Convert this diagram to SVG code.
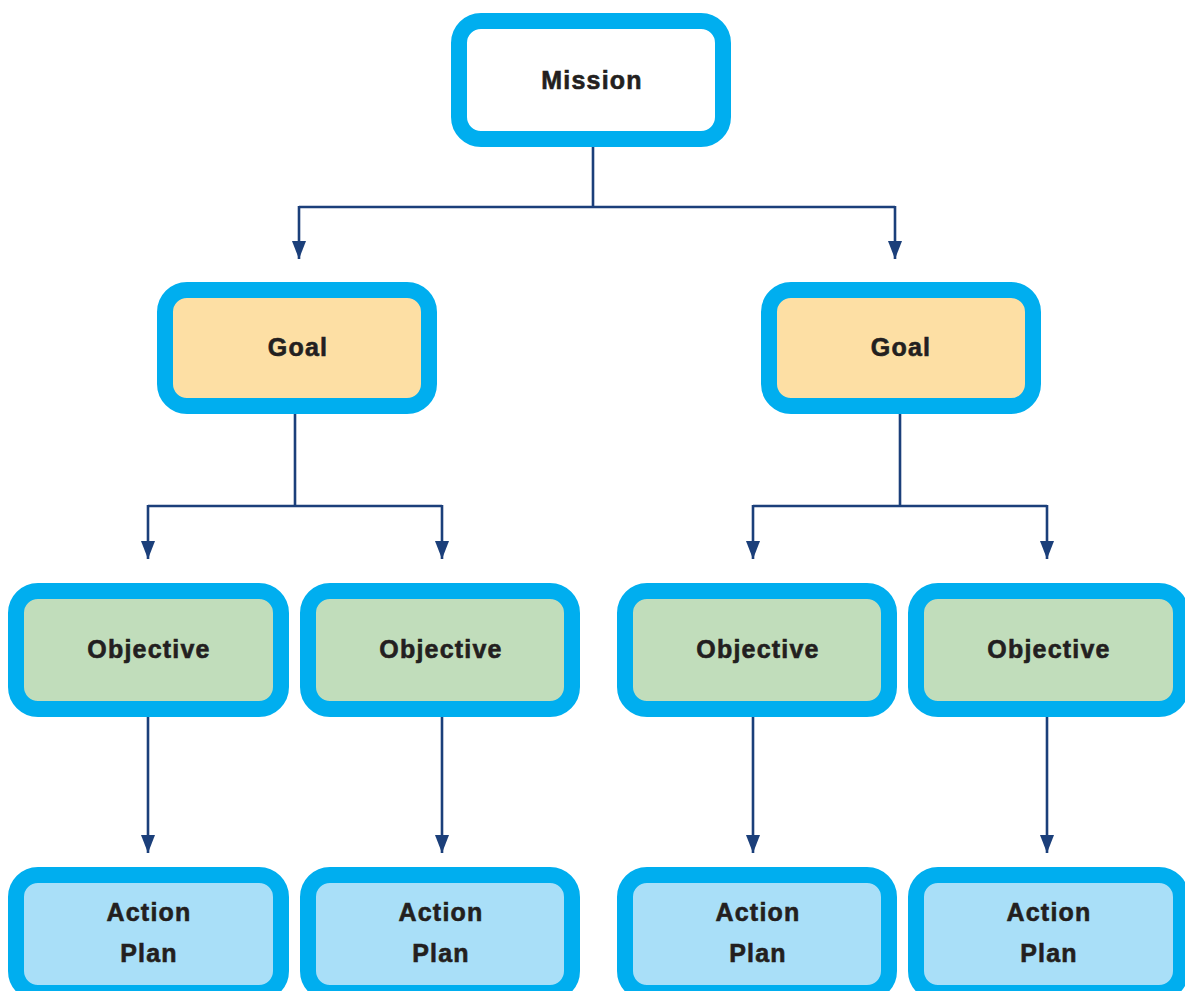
<svg xmlns="http://www.w3.org/2000/svg" width="1185" height="991" viewBox="0 0 1185 991">
<style>
.box{stroke:#00AEEF;stroke-width:16}
.mission{fill:#FFFFFF}
.goal{fill:#FDDFA4}
.obj{fill:#C1DDBB}
.act{fill:#A9DFF8}
.lbl{font-family:"Liberation Sans",Arial,sans-serif;font-weight:bold;font-size:25px;letter-spacing:1.2px;fill:#231F20;stroke:#231F20;stroke-width:0.6px;text-anchor:middle}
.conn{fill:none;stroke:#1B3F7A;stroke-width:2.6}
</style>
<defs>
<marker id="ah" markerUnits="userSpaceOnUse" markerWidth="18" markerHeight="14" refX="18" refY="7" orient="auto" viewBox="0 0 18 14">
<path d="M0,0 L18,7 L0,14 Z" fill="#1B3F7A"/>
</marker>
</defs>
<rect width="1185" height="991" fill="#FFFFFF"/>
<g id="connectors">
<path class="conn" d="M593,147 V207 M299,207 H895" />
<path class="conn" d="M299,206 V259" marker-end="url(#ah)"/>
<path class="conn" d="M895,206 V259" marker-end="url(#ah)"/>
<path class="conn" d="M295,414 V506 M148,506 H442" />
<path class="conn" d="M148,505 V559" marker-end="url(#ah)"/>
<path class="conn" d="M442,505 V559" marker-end="url(#ah)"/>
<path class="conn" d="M900,414 V506 M753,506 H1047" />
<path class="conn" d="M753,505 V559" marker-end="url(#ah)"/>
<path class="conn" d="M1047,505 V559" marker-end="url(#ah)"/>
<path class="conn" d="M148,717 V853" marker-end="url(#ah)"/>
<path class="conn" d="M442,717 V853" marker-end="url(#ah)"/>
<path class="conn" d="M753,717 V853" marker-end="url(#ah)"/>
<path class="conn" d="M1047,717 V853" marker-end="url(#ah)"/>
</g>
<g id="mission">
<rect class="box mission" x="459" y="21" width="264" height="118" rx="22"/>
<text class="lbl" x="592" y="89">Mission</text>
</g>
<g id="goal-left">
<rect class="box goal" x="165" y="290" width="264" height="116" rx="22"/>
<text class="lbl" x="298" y="356">Goal</text>
</g>
<g id="goal-right">
<rect class="box goal" x="769" y="290" width="264" height="116" rx="22"/>
<text class="lbl" x="901" y="356">Goal</text>
</g>
<g id="objective-1">
<rect class="box obj" x="16" y="591" width="265" height="118" rx="22"/>
<text class="lbl" x="149" y="658">Objective</text>
</g>
<g id="objective-2">
<rect class="box obj" x="308" y="591" width="264" height="118" rx="22"/>
<text class="lbl" x="441" y="658">Objective</text>
</g>
<g id="objective-3">
<rect class="box obj" x="625" y="591" width="264" height="118" rx="22"/>
<text class="lbl" x="758" y="658">Objective</text>
</g>
<g id="objective-4">
<rect class="box obj" x="916" y="591" width="265" height="118" rx="22"/>
<text class="lbl" x="1049" y="658">Objective</text>
</g>
<g id="action-1">
<rect class="box act" x="16" y="875" width="265" height="118" rx="22"/>
<text class="lbl" x="149" y="921">Action</text>
<text class="lbl" x="149" y="962">Plan</text>
</g>
<g id="action-2">
<rect class="box act" x="308" y="875" width="264" height="118" rx="22"/>
<text class="lbl" x="441" y="921">Action</text>
<text class="lbl" x="441" y="962">Plan</text>
</g>
<g id="action-3">
<rect class="box act" x="625" y="875" width="264" height="118" rx="22"/>
<text class="lbl" x="758" y="921">Action</text>
<text class="lbl" x="758" y="962">Plan</text>
</g>
<g id="action-4">
<rect class="box act" x="916" y="875" width="265" height="118" rx="22"/>
<text class="lbl" x="1049" y="921">Action</text>
<text class="lbl" x="1049" y="962">Plan</text>
</g>
</svg>
